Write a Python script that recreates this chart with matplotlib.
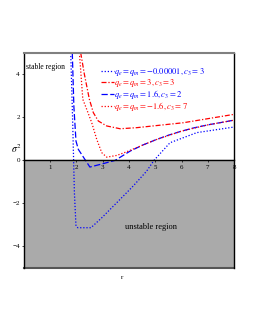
import numpy as np
import matplotlib.pyplot as plt
from matplotlib.lines import Line2D

plt.rcParams['font.family'] = ['Liberation Serif', 'DejaVu Serif']
plt.rcParams['mathtext.fontset'] = 'stix'

# curves
r_a = [1.78, 1.85, 1.92, 1.98, 2.05, 2.55, 2.96, 3.53, 4.16, 4.67, 4.95, 5.56, 6.58, 8.0]
s_a = [5.0, 2.0, -1.5, -3.05, -3.13, -3.13, -2.67, -1.97, -1.19, -0.5, 0.0, 0.82, 1.29, 1.55]

r_b = [2.16, 2.3, 2.49, 2.64, 2.83, 3.15, 3.66, 4.29, 6.07, 8.0]
s_b = [5.0, 4.0, 2.84, 2.22, 1.83, 1.6, 1.47, 1.52, 1.75, 2.14]

r_c = [1.84, 1.9, 1.98, 2.07, 2.51, 3.02, 3.47, 4.04, 4.5, 5.0, 5.5, 6.0, 6.5, 7.0, 8.0]
s_c = [5.0, 2.5, 0.9, 0.51, -0.31, -0.15, 0.0, 0.43, 0.7, 0.95, 1.17, 1.36, 1.52, 1.65, 1.87]

r_d = [2.11, 2.24, 2.39, 2.58, 2.77, 2.96, 3.15, 3.53, 3.91, 4.5, 5.0, 6.0, 7.0, 8.0]
s_d = [5.0, 2.84, 2.37, 1.75, 0.98, 0.36, 0.15, 0.23, 0.40, 0.7, 0.95, 1.36, 1.65, 1.87]

labels = [r'$q_e=q_m=-0.00001, c_3=3$',
          r'$q_e=q_m=3, c_3=3$',
          r'$q_e=q_m=1.6, c_3=2$',
          r'$q_e=q_m=-1.6, c_3=7$']
xticks = [1, 2, 3, 4, 5, 6, 7, 8]
yticks = [-4, -2, 0, 2, 4]

fig = plt.figure(figsize=(2.55, 3.3), dpi=100)
ax = fig.add_axes([0.094, 0.188, 0.824, 0.652])

ax.axhspan(-5, 0, color='#aaaaaa', zorder=0)

dot = (0, (1, 1.5))
dashdot = (0, (4, 1.5, 1, 1.5))
dash = (0, (5, 2))
ax.plot(r_a, s_a, color='blue', ls=dot, lw=0.9)
ax.plot(r_b, s_b, color='red', ls=dashdot, lw=0.9)
ax.plot(r_c, s_c, color='blue', ls=dash, lw=0.9)
ax.plot(r_d, s_d, color='red', ls=dot, lw=0.9)

ax.set_xlim(0, 8)
ax.set_ylim(-5, 5)

ax.spines['bottom'].set_position(('data', 0))
ax.spines['bottom'].set_linewidth(1.0)
ax.spines['top'].set_color('#808080')
ax.spines['top'].set_linewidth(1.5)
ax.spines['left'].set_linewidth(1.0)
ax.spines['right'].set_linewidth(1.0)
ax.axhline(-5, color='#555555', lw=1.5, clip_on=False)

ax.set_xticks(xticks)
ax.set_yticks(yticks)
ax.tick_params(axis='both', labelsize=5, length=1.5, width=0.5, pad=1.5)

fig.text(0.045, 0.535, r'$\sigma^2$', fontsize=7)
ax.text(0.46, -0.05, 'r', transform=ax.transAxes, fontsize=5)
ax.text(0.01, 0.925, 'stable region', transform=ax.transAxes, fontsize=5.5)
ax.text(0.48, 0.18, 'unstable region', transform=ax.transAxes, fontsize=6)

handles = [Line2D([], [], color='blue', ls=dot, lw=0.9),
           Line2D([], [], color='red', ls=dashdot, lw=0.9),
           Line2D([], [], color='blue', ls=dash, lw=0.9),
           Line2D([], [], color='red', ls=dot, lw=0.9)]
leg = ax.legend(handles, labels, loc='upper left', bbox_to_anchor=(0.35, 0.955),
                frameon=False, fontsize=6.1, handlelength=1.5, handletextpad=0.05,
                labelspacing=-0.1, borderaxespad=0)
for t, c in zip(leg.get_texts(), ['blue', 'red', 'blue', 'red']):
    t.set_color(c)

fig.savefig('out.png', dpi=100)
